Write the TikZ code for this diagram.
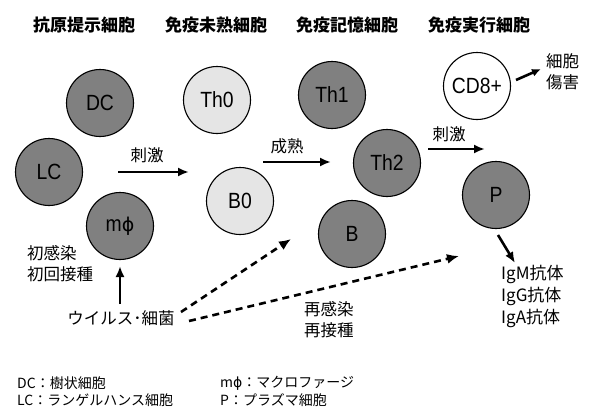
\documentclass[tikz,border=0pt]{standalone}
\usepackage{fontspec}
\setmainfont{Noto Sans CJK JP}
\newfontfamily\lat{Liberation Sans}[FakeStretch=0.88]
\newfontfamily\dv{DejaVu Sans}
\usetikzlibrary{arrows.meta}
\begin{document}
\begin{tikzpicture}[x=1pt,y=-1pt,
  cell/.style={circle,draw=black,line width=1.1pt,minimum size=67pt,inner sep=0pt,font=\lat\fontsize{22}{22}\selectfont},
  dark/.style={cell,fill=black!50},
  light/.style={cell,fill=black!10},
  white/.style={cell,fill=white},
  head/.style={font=\bfseries\fontsize{17}{19}\selectfont},
  lbl/.style={font=\fontsize{16.5}{21}\selectfont,align=left,inner sep=0pt},
  leg/.style={font=\fontsize{14}{15}\selectfont,anchor=west,inner sep=0pt},
  arr/.style={line width=2.6pt,-{Latex[length=11pt,width=9pt]}},
  darr/.style={line width=2.6pt,dash pattern=on 7pt off 5pt,-{Latex[length=12pt,width=10pt]}}]
\useasboundingbox (0,0) rectangle (591,407);
% headers
\node[head] (h1) at (84,25) {抗原提示細胞};
\node[head] (h2) at (216,25) {免疫未熟細胞};
\node[head] (h3) at (347,25) {免疫記憶細胞};
\node[head] (h4) at (479,25) {免疫実行細胞};
% cells
\node[dark] (DC) at (100,103) {DC};
\node[dark] (LC) at (49,172) {LC};
\node[dark] (M) at (120,226) {m{\dv\fontsize{19}{19}\selectfont ϕ}};
\node[light] (Th0) at (217,100) {Th0};
\node[light] (B0) at (240,201) {B0};
\node[dark] (Th1) at (332,95) {Th1};
\node[dark] (Th2) at (387,163) {Th2};
\node[dark] (B) at (352,234) {B};
\node[white] (CD8) at (477,86) {CD8+};
\node[dark] (P) at (496,195) {P};
% text
\node[lbl,anchor=west] (kill) at (546,72) {細胞\\傷害};
\node[lbl,anchor=west] (first) at (27,264) {初感染\\初回接種};
\node[lbl] (virus) at (121,318) {ウイルス･細菌};
\node[lbl,anchor=west] (re) at (304,320) {再感染\\再接種};
\node[lbl,anchor=north west,font=\fontsize{17}{22}\selectfont] (ig) at (501,265) {IgM抗体\\IgG抗体\\IgA抗体};
\node[lbl] (s1) at (147,155) {刺激};
\node[lbl] (s2) at (287,146) {成熟};
\node[lbl] (s3) at (449,134) {刺激};
% arrow coordinates
\coordinate (a1s) at (118,172); \coordinate (a1e) at (189,172);
\coordinate (a2s) at (263,162); \coordinate (a2e) at (331,162);
\coordinate (a3s) at (428,149); \coordinate (a3e) at (485,149);
\coordinate (c1) at (516,80); \coordinate (c2) at (541,69);
\coordinate (p1) at (498,235); \coordinate (p2) at (515,263);
\coordinate (v1) at (120,304); \coordinate (v2) at (120,266);
\coordinate (d1s) at (181,312); \coordinate (d1e) at (291,239);
\coordinate (d2s) at (189,321); \coordinate (d2e) at (459,256);
\draw[arr] (a1s) -- (a1e);
\draw[arr] (a2s) -- (a2e);
\draw[arr] (a3s) -- (a3e);
\draw[arr,-{Latex[length=9pt,width=8pt]}] (c1) -- (c2);
\draw[arr] (p1) -- (p2);
\draw[arr] (v1) -- (v2);
\draw[darr] (d1s) -- (d1e);
\draw[darr] (d2s) -- (d2e);
% legend
\node[leg] (l1) at (17,383) {DC：樹状細胞};
\node[leg] (l2) at (17,400) {LC：ランゲルハンス細胞};
\node[leg] (l3) at (220,383) {m{\dv ϕ}：マクロファージ};
\node[leg] (l4) at (220,400) {P：プラズマ細胞};
\end{tikzpicture}
\end{document}
